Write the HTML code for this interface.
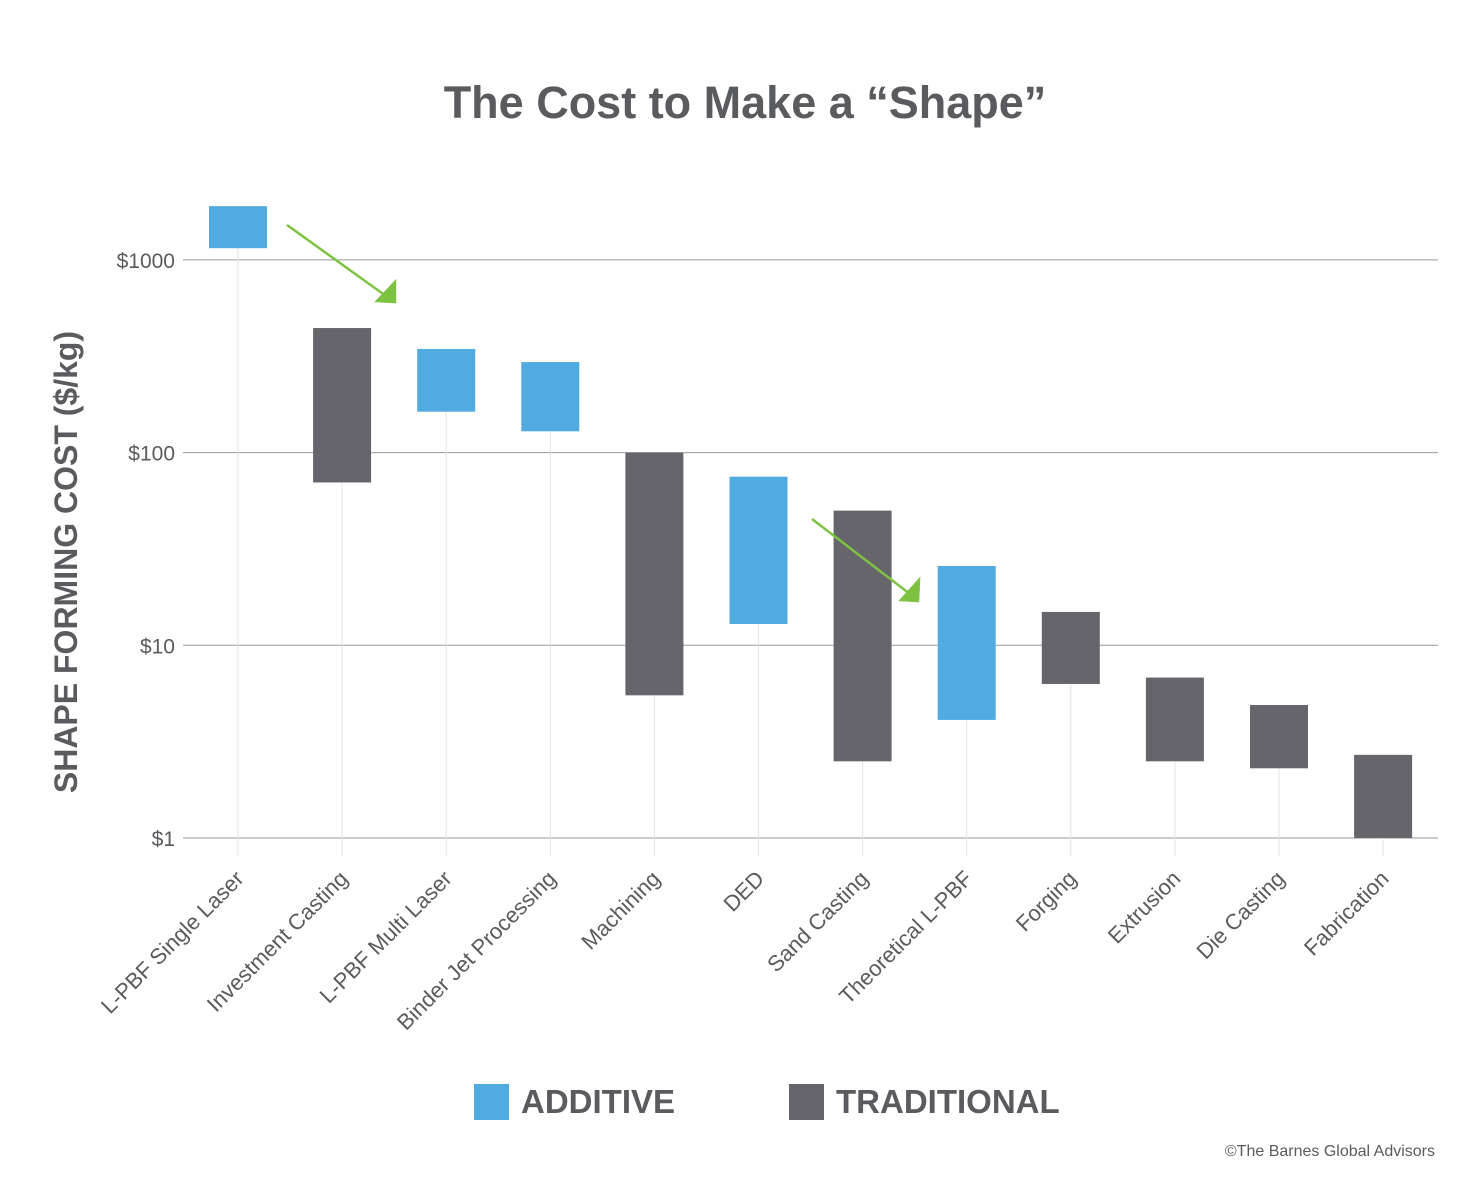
<!DOCTYPE html>
<html><head><meta charset="utf-8"><style>
html,body{margin:0;padding:0;background:#fff;}
svg{display:block;font-family:"Liberation Sans",sans-serif;}
</style></head><body>
<svg id="chart" width="1476" height="1185" viewBox="0 0 1476 1185" xmlns="http://www.w3.org/2000/svg">
<text x="745" y="118" text-anchor="middle" font-size="45" font-weight="bold" fill="#5a5b5e">The Cost to Make a “Shape”</text>
<text transform="translate(77,562) rotate(-90)" text-anchor="middle" font-size="32" font-weight="bold" fill="#5a5b5e">SHAPE FORMING COST ($/kg)</text>
<g id="grid"></g><g id="stems"></g><g id="bars"></g><g id="xlabels"></g>
<g stroke="#7dc241" stroke-width="2.5" fill="#7dc241">
<line x1="287" y1="225" x2="386" y2="296"/><polygon points="395,282 395,302 377,301"/>
<line x1="812" y1="519" x2="910" y2="594"/><polygon points="919,580 918,601 901,600"/>
</g>
<rect x="474" y="1084" width="35" height="36" fill="#52abe0"/>
<text x="521" y="1113" font-size="33" font-weight="bold" fill="#5a5b5e">ADDITIVE</text>
<rect x="789" y="1084" width="35" height="36" fill="#65656b"/>
<text x="836" y="1113" font-size="33" font-weight="bold" fill="#5a5b5e">TRADITIONAL</text>
<text x="1435" y="1156" text-anchor="end" font-size="16" fill="#5a5b5e">©The Barnes Global Advisors</text>
</svg>
<script>
const categories=["L-PBF Single Laser","Investment Casting","L-PBF Multi Laser","Binder Jet Processing","Machining","DED","Sand Casting","Theoretical L-PBF","Forging","Extrusion","Die Casting","Fabrication"];
const highValues=[1900,443,345,295,100,75,50,25.8,14.9,6.8,4.9,2.7];
const lowValues=[1150,70,163,129,5.5,12.9,2.5,4.1,6.3,2.5,2.3,1];
const types=["additive","traditional","additive","additive","traditional","additive","traditional","additive","traditional","traditional","traditional","traditional"];
const tickValues=[1,10,100,1000];
const tickLabels=["$1","$10","$100","$1000"];
const NS="http://www.w3.org/2000/svg";
const y=v=>838-192.7*Math.log10(v);
const x=i=>238+i*104.1;
function mk(tag,attrs,parent){const e=document.createElementNS(NS,tag);for(const k in attrs)e.setAttribute(k,attrs[k]);document.getElementById(parent).appendChild(e);return e;}
tickValues.forEach((v,i)=>{
 const l=mk("line",{x1:183,x2:1438,y1:y(v),y2:y(v),stroke:"#9a9a9a","stroke-width":1},"grid");
 
 
 const t=mk("text",{x:175,y:y(v)+8,"text-anchor":"end","font-size":21,fill:"#5a5b5e"},"grid");
 t.textContent=tickLabels[i];
 
 
});
categories.forEach((c,i)=>{
 const s=mk("line",{x1:x(i),x2:x(i),y1:y(lowValues[i]),y2:y(1)+18,stroke:"#e3e3e3","stroke-width":1},"stems");
 
 
 const b=mk("rect",{x:x(i)-29,width:58,y:y(highValues[i]),height:y(lowValues[i])-y(highValues[i]),fill:types[i]==="additive"?"#52abe0":"#65656b"},"bars");
 
 
 const t=mk("text",{transform:`translate(${x(i)+7},${880}) rotate(-45)`,"text-anchor":"end","font-size":22,fill:"#5a5b5e"},"xlabels");
 t.textContent=c;
 
 
});
</script>
</body></html>
